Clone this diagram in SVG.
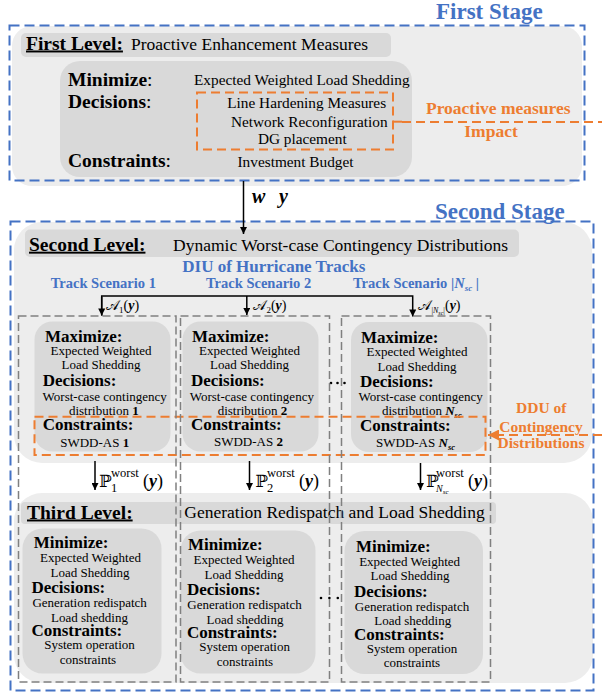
<svg xmlns="http://www.w3.org/2000/svg" width="602" height="694" viewBox="0 0 602 694">
<style>
text{font-family:"Liberation Serif","DejaVu Serif",serif;fill:#000}
.h{font-weight:bold;font-size:17px}
.lv{font-weight:bold;font-size:19.5px;text-decoration:underline}
.ti{font-size:17.5px}
.bd{font-size:13px;text-anchor:middle}
.l1{font-size:15.3px}
.blue{fill:#4472C4;font-weight:bold}
.org{fill:#ED7D31;font-weight:bold}
.stage{fill:#4472C4;font-weight:bold;font-size:23px}
.cont{fill:#EDEDED}
.bar{fill:#D9D9D9}
.inner{fill:#D9D9D9}
.bdash{fill:none;stroke:#4472C4;stroke-width:2;stroke-dasharray:10 5}
.odash{fill:none;stroke:#ED7D31;stroke-width:2;stroke-dasharray:9 5}
.gdash{fill:none;stroke:#808080;stroke-width:1.5;stroke-dasharray:8 4}
.ln{stroke:#000;stroke-width:1.5;fill:none}
.m{font-family:"Liberation Serif","DejaVu Serif","DejaVu Sans",serif}
</style>
<defs>
<marker id="ah" viewBox="0 0 10 10" refX="10" refY="5" markerWidth="8" markerHeight="7" markerUnits="userSpaceOnUse" orient="auto"><path d="M0,0 L10,5 L0,10 z" fill="#000"/></marker>
<marker id="aho" viewBox="0 0 10 10" refX="10" refY="5" markerWidth="13" markerHeight="11" markerUnits="userSpaceOnUse" orient="auto"><path d="M0,0 L10,5 L0,10 z" fill="#ED7D31"/></marker>
</defs>

<!-- First stage -->
<g id="first-level">
<rect class="cont" x="12" y="26" width="570" height="160" rx="20"/>
<rect class="bar" x="21" y="33" width="370" height="24" rx="5"/>
<text class="lv" x="26" y="49.5">First Level:</text>
<text class="ti" x="131" y="49.5">Proactive Enhancement Measures</text>
<rect class="inner" x="60" y="61" width="352" height="116" rx="20"/>
<text x="68" y="86" style="font-size:19.5px"><tspan font-weight="bold">Minimize</tspan>:</text>
<text x="68" y="108" style="font-size:19.5px"><tspan font-weight="bold">Decisions</tspan>:</text>
<text x="68" y="166.7" style="font-size:19.5px"><tspan font-weight="bold">Constraints</tspan>:</text>
<text class="l1" x="194" y="85">Expected Weighted Load Shedding</text>
<rect class="odash" x="197" y="92.5" width="196" height="57"/>
<text class="l1" x="306.7" y="108.3" text-anchor="middle">Line Hardening Measures</text>
<text class="l1" x="309.3" y="126.7" text-anchor="middle">Network Reconfiguration</text>
<text class="l1" x="302.3" y="144.3" text-anchor="middle">DG placement</text>
<text class="l1" x="295.5" y="166.7" text-anchor="middle">Investment Budget</text>
</g>
<g id="proactive-impact">
<text class="org" x="498.3" y="114.3" text-anchor="middle" font-size="17.5">Proactive measures</text>
<text class="org" x="491" y="136.7" text-anchor="middle" font-size="17.5">Impact</text>
</g>
<g id="first-stage">
<rect class="bdash" x="9.5" y="25.5" width="575" height="155"/>
<text class="stage" x="436" y="18.5">First Stage</text>
</g>

<!-- Second stage -->
<g id="second-level">
<rect class="cont" x="14" y="222" width="578" height="241" rx="28"/>
<rect class="bar" x="25" y="229.5" width="494" height="27.5" rx="5"/>
<text class="lv" x="29" y="250.7">Second Level:</text>
<text class="ti" x="173" y="250.7">Dynamic Worst-case Contingency Distributions</text>
<text class="blue" x="273.8" y="271.7" text-anchor="middle" font-size="17">DIU of Hurricane Tracks</text>
<text class="blue" x="50.7" y="287.5" font-size="14.5">Track Scenario 1</text>
<text class="blue" x="206" y="287.5" font-size="14.5">Track Scenario 2</text>
<text class="blue" x="353" y="287.5" font-size="14.5">Track Scenario |<tspan font-style="italic">N</tspan><tspan font-style="italic" font-size="9" dy="3">sc</tspan><tspan dy="-3"> |</tspan></text>
</g>
<g id="worst-case-1">
<rect class="inner" x="34.5" y="321.5" width="136" height="130" rx="18"/>
<text class="h" x="45" y="341.7">Maximize:</text>
<text class="bd" x="101" y="354.5">Expected Weighted</text>
<text class="bd" x="101" y="369">Load Shedding</text>
<text class="h" x="42.7" y="386">Decisions:</text>
<text class="bd" x="104.7" y="400.5">Worst-case contingency</text>
<text class="bd" x="103.8" y="414.5">distribution <tspan font-weight="bold">1</tspan></text>
<text class="h" x="42.7" y="429.5">Constraints:</text>
<text class="bd" x="94.7" y="446.5">SWDD-AS <tspan font-weight="bold">1</tspan></text>
</g>
<g id="worst-case-2">
<rect class="inner" x="182.5" y="321.5" width="136" height="130" rx="18"/>
<text class="h" x="192" y="341.7">Maximize:</text>
<text class="bd" x="249.5" y="354.5">Expected Weighted</text>
<text class="bd" x="249.5" y="369">Load Shedding</text>
<text class="h" x="191" y="386">Decisions:</text>
<text class="bd" x="251.8" y="400.5">Worst-case contingency</text>
<text class="bd" x="252.5" y="414.5">distribution <tspan font-weight="bold">2</tspan></text>
<text class="h" x="191" y="429.5">Constraints:</text>
<text class="bd" x="248.4" y="446">SWDD-AS <tspan font-weight="bold">2</tspan></text>
</g>
<g id="worst-case-n">
<rect class="inner" x="351" y="322" width="136.5" height="130" rx="18"/>
<text class="h" x="361" y="342.5">Maximize:</text>
<text class="bd" x="417" y="356">Expected Weighted</text>
<text class="bd" x="417" y="370.5">Load Shedding</text>
<text class="h" x="360" y="387">Decisions:</text>
<text class="bd" x="420.7" y="401">Worst-case contingency</text>
<text x="382" y="415" font-size="13">distribution <tspan font-weight="bold" font-style="italic">N</tspan><tspan font-weight="bold" font-style="italic" font-size="8.5" dy="3">sc</tspan></text>
<text class="h" x="360" y="430.5">Constraints:</text>
<text x="376" y="446.5" font-size="13">SWDD-AS <tspan font-weight="bold" font-style="italic">N</tspan><tspan font-weight="bold" font-style="italic" font-size="8.5" dy="3">sc</tspan></text>
</g>
<g id="ddu">
<rect class="odash" x="34.5" y="416.7" width="451" height="38.3"/>
<text class="org" x="541.3" y="413.3" text-anchor="middle" font-size="15.5">DDU of</text>
<text class="org" x="541" y="431.7" text-anchor="middle" font-size="15.5">Contingency</text>
<text class="org" x="541" y="448.3" text-anchor="middle" font-size="15.5">Distributions</text>
</g>
<g id="dots-2" fill="#000">
<circle cx="331" cy="383" r="1.3"/><circle cx="337.5" cy="383" r="1.3"/><circle cx="344.5" cy="383" r="1.3"/>
</g>

<!-- Third level -->
<g id="third-level">
<rect class="cont" x="14" y="493" width="579" height="190" rx="28"/>
<rect class="bar" x="21" y="502" width="475" height="22" rx="4"/>
<text class="lv" x="27" y="518.5">Third Level:</text>
<text class="ti" x="184.3" y="517.5">Generation Redispatch and Load Shedding</text>
</g>
<g id="dispatch-1">
<rect class="inner" x="22.5" y="528.5" width="139" height="145" rx="20"/>
<text class="h" x="33.8" y="548.3">Minimize:</text>
<text class="bd" x="90.5" y="562">Expected Weighted</text>
<text class="bd" x="90" y="576.5">Load Shedding</text>
<text class="h" x="31.5" y="593">Decisions:</text>
<text class="bd" x="89.6" y="607">Generation redispatch</text>
<text class="bd" x="89.5" y="621.5">Load shedding</text>
<text class="h" x="31.5" y="636">Constraints:</text>
<text class="bd" x="89.5" y="649">System operation</text>
<text class="bd" x="88" y="663.5">constraints</text>
</g>
<g id="dispatch-2">
<rect class="inner" x="180.5" y="530.5" width="135" height="143" rx="20"/>
<text class="h" x="188" y="550">Minimize:</text>
<text class="bd" x="244" y="564">Expected Weighted</text>
<text class="bd" x="244" y="578.5">Load Shedding</text>
<text class="h" x="187" y="595">Decisions:</text>
<text class="bd" x="244.5" y="609">Generation redispatch</text>
<text class="bd" x="245" y="623.5">Load shedding</text>
<text class="h" x="187" y="638">Constraints:</text>
<text class="bd" x="244.6" y="651">System operation</text>
<text class="bd" x="245" y="665.5">constraints</text>
</g>
<g id="dispatch-n">
<rect class="inner" x="344.5" y="531" width="138.5" height="143" rx="20"/>
<text class="h" x="356" y="552">Minimize:</text>
<text class="bd" x="409.6" y="565.5">Expected Weighted</text>
<text class="bd" x="410" y="580">Load Shedding</text>
<text class="h" x="354" y="596.5">Decisions:</text>
<text class="bd" x="412" y="610.5">Generation redispatch</text>
<text class="bd" x="412.7" y="625">Load shedding</text>
<text class="h" x="354" y="639.5">Constraints:</text>
<text class="bd" x="412" y="652.5">System operation</text>
<text class="bd" x="412" y="667">constraints</text>
</g>
<g id="dots-3" fill="#000">
<circle cx="321" cy="598" r="1.3"/><circle cx="329.4" cy="598" r="1.3"/><circle cx="337.8" cy="598" r="1.3"/>
</g>

<g id="scenario-columns">
<rect class="gdash" x="18.5" y="316" width="157.5" height="366"/>
<rect class="gdash" x="180.5" y="316" width="149" height="366"/>
<rect class="gdash" x="341.5" y="316" width="149" height="366"/>
</g>

<g id="second-stage">
<rect class="bdash" x="10.5" y="221.5" width="583" height="469"/>
<text class="stage" x="435" y="218.5">Second Stage</text>
</g>

<!-- Connectors -->
<g id="connectors">
<line class="ln" x1="243.5" y1="181" x2="243.5" y2="234" marker-end="url(#ah)"/>
<text class="m" x="252" y="203" font-size="20" font-weight="bold" font-style="italic">w</text>
<text class="m" x="279" y="203" font-size="20" font-weight="bold" font-style="italic">y</text>
<polyline class="ln" points="101.7,315.5 101.7,296 412.7,296 412.7,316.5" marker-end="url(#ah)"/>
<line class="ln" x1="101.7" y1="297" x2="101.7" y2="315.5" marker-end="url(#ah)"/>
<line class="ln" x1="246.8" y1="296" x2="246.8" y2="315" marker-end="url(#ah)"/>
<text class="m" x="106" y="310" font-size="14">𝒜<tspan font-size="9" dy="3">1</tspan><tspan dy="-3">(</tspan><tspan font-weight="bold" font-style="italic">y</tspan>)</text>
<text class="m" x="253.4" y="310" font-size="14">𝒜<tspan font-size="9" dy="3">2</tspan><tspan dy="-3">(</tspan><tspan font-weight="bold" font-style="italic">y</tspan>)</text>
<text class="m" x="418.4" y="310" font-size="14">𝒜<tspan font-size="8" dy="3">|</tspan><tspan font-size="8" font-style="italic">N</tspan><tspan font-size="6" font-style="italic" dy="1.5">sc</tspan><tspan font-size="8" dy="-1.5">|</tspan><tspan dy="-3">(</tspan><tspan font-weight="bold" font-style="italic">y</tspan>)</text>
<line x1="402" y1="122" x2="602" y2="122" style="stroke:#ED7D31;stroke-width:2;stroke-dasharray:9 5"/>
<line x1="393" y1="121.7" x2="402" y2="121.7" style="stroke:#ED7D31;stroke-width:2"/>
<line x1="602" y1="435" x2="488" y2="435" style="stroke:#ED7D31;stroke-width:2;stroke-dasharray:9 5" marker-end="url(#aho)"/>
<line class="ln" x1="95" y1="461" x2="95" y2="490" marker-end="url(#ah)"/>
<line class="ln" x1="249.5" y1="461" x2="249.5" y2="490" marker-end="url(#ah)"/>
<line class="ln" x1="420.5" y1="463" x2="420.5" y2="490" marker-end="url(#ah)"/>
<text class="m" x="99" y="486.7" font-size="17">ℙ</text>
<text class="m" x="111" y="476.5" font-size="12.5">worst</text>
<text class="m" x="111" y="492" font-size="12.5">1</text>
<text class="m" x="143" y="486.7" font-size="18">(<tspan font-weight="bold" font-style="italic">y</tspan>)</text>
<text class="m" x="255.3" y="486.7" font-size="17">ℙ</text>
<text class="m" x="267" y="476.5" font-size="12.5">worst</text>
<text class="m" x="267" y="492" font-size="12.5">2</text>
<text class="m" x="299" y="486.7" font-size="18">(<tspan font-weight="bold" font-style="italic">y</tspan>)</text>
<text class="m" x="426" y="486.7" font-size="17">ℙ</text>
<text class="m" x="436" y="476.5" font-size="12.5">worst</text>
<text class="m" x="436" y="492" font-size="10" font-style="italic">N<tspan font-size="7" dy="2">sc</tspan></text>
<text class="m" x="468" y="486.7" font-size="18">(<tspan font-weight="bold" font-style="italic">y</tspan>)</text>
</g>
</svg>
